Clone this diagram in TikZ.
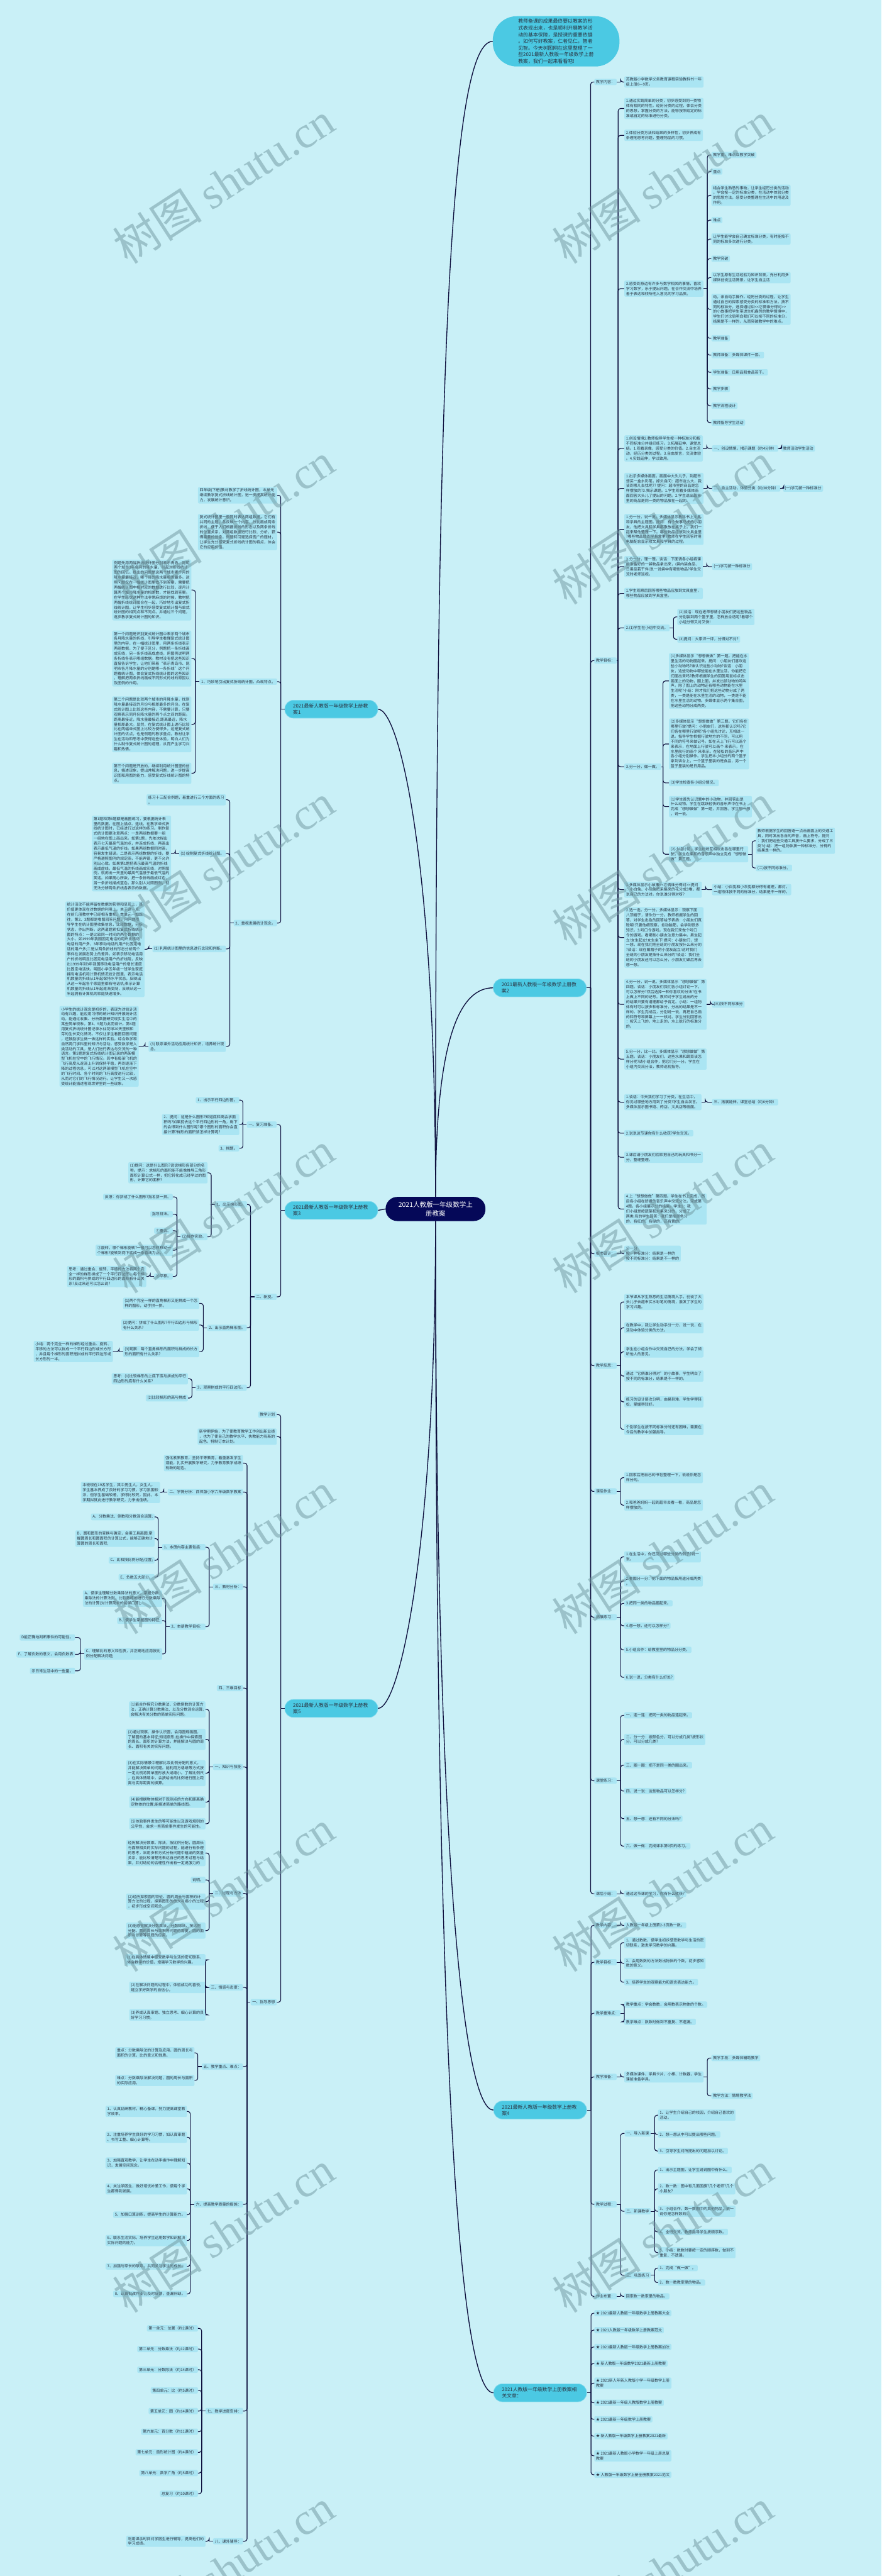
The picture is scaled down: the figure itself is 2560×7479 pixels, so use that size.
\documentclass[tikz,border=0pt]{standalone}
\usepackage{fontspec}
\setmainfont{Noto Sans CJK SC}
\newfontfamily\wmserif{Liberation Serif}
\definecolor{bgc}{RGB}{201,240,247}
\definecolor{leafc}{RGB}{170,229,243}
\definecolor{mainc}{RGB}{75,201,227}
\definecolor{mainb}{RGB}{125,217,237}
\definecolor{ctrc}{RGB}{5,8,88}
\definecolor{linec}{RGB}{14,16,62}
\definecolor{txtc}{RGB}{42,52,66}
\definecolor{wmc}{RGB}{110,150,158}
\newcommand\lleaf[4]{\node[leaf,anchor=east] (#1) at (#2,#3) {#4};}
\newcommand\rleaf[4]{\node[leaf,anchor=west] (#1) at (#2,#3) {#4};}
\newcommand\lbr[3]{\draw[conn] (#1.west) -- ++(-#2,0) coordinate (J#1);
  \foreach \kid in {#3}{\draw[conn,rounded corners=7pt] (J#1) |- (\kid.east);}}
\newcommand\rbr[3]{\draw[conn] (#1.east) -- ++(#2,0) coordinate (J#1);
  \foreach \kid in {#3}{\draw[conn,rounded corners=7pt] (J#1) |- (\kid.west);}}
\begin{document}
\begin{tikzpicture}[x=1pt,y=-1pt,
  leaf/.style={rectangle,rounded corners=4pt,fill=leafc,text=txtc,font=\fontsize{11}{14.4}\selectfont,inner xsep=5pt,inner ysep=4pt,align=left},
  mainn/.style={rectangle,rounded corners=25pt,fill=mainc,draw=mainb,line width=1.5pt,text=txtc,font=\fontsize{14.3}{18.3}\selectfont,align=left,text width=222pt,inner xsep=24pt,inner ysep=8pt,minimum height=52pt},
  ctrn/.style={rectangle,rounded corners=34pt,fill=ctrc,text=white,font=\fontsize{19.2}{26.7}\selectfont,align=center,text width=216pt,inner xsep=37pt,inner ysep=8pt,minimum height=70pt},
  bubn/.style={rectangle,rounded corners=70pt,fill=mainc,text=txtc,font=\fontsize{14.4}{19.3}\selectfont,align=left,text width=220pt,inner xsep=74pt,inner ysep=5pt,minimum height=146pt},
  conn/.style={draw=linec,line width=2pt},
  mconn/.style={draw=linec,line width=2.5pt},
  wm/.style={text=wmc,opacity=0.5,font=\fontsize{130}{130}\selectfont,rotate=33}]
\useasboundingbox (0,0) rectangle (2560,7479);
\fill[bgc] (0,0) rectangle (2560,7479);
% ---------- centre, bubble, main branches
\node[ctrn] (ctr) at (1265,3510) {2021人教版一年级数学上\\册教案};
\node[bubn,anchor=west] (bub) at (1431,120) {教师备课的成果最终要以教案的形\\式表现出来，也是顺利开展教学活\\动的基本保障，是授课的重要依据\\。如何写好教案，仁者见仁，智者\\见智。今天树图网在这里整理了一\\些2021最新人教版一年级数学上册\\教案，我们一起来看看吧!};
\node[mainn,anchor=east] (n1) at (1098,2059) {2021最新人教版一年级数学上册教\\案1};
\node[mainn,anchor=west] (n2) at (1432,2868) {2021最新人教版一年级数学上册教\\案2};
\node[mainn,anchor=east] (n3) at (1098,3514) {2021最新人教版一年级数学上册教\\案3};
\node[mainn,anchor=west] (n4) at (1433,6126) {2021最新人教版一年级数学上册教\\案4};
\node[mainn,anchor=east] (n5) at (1098,4960) {2021最新人教版一年级数学上册教\\案5};
\node[mainn,anchor=west] (n6) at (1433,6947) {2021人教版一年级数学上册教案相\\关文章：};
\draw[mconn] (ctr.north) .. controls (1265,1200) and (1300,120) .. (bub.west);
\draw[mconn] (ctr.north) .. controls (1265,2500) and (1160,2059) .. (n1.east);
\draw[mconn] (ctr.north) .. controls (1265,3000) and (1340,2868) .. (n2.west);
\draw[mconn] (ctr.west) -- (n3.east);
\draw[mconn] (ctr.south) .. controls (1265,5300) and (1340,6126) .. (n4.west);
\draw[mconn] (ctr.south) .. controls (1265,4500) and (1160,4960) .. (n5.east);
\draw[mconn] (ctr.south) .. controls (1265,6100) and (1340,6947) .. (n6.west);
% ---------- branch 1 (left)
\lleaf{a1}{805}{1438}{四年级(下册)教材教学了折线统计图，本单元\\继续教学复式折线统计图，进一步提高统计能\\力，发展统计意识。}
\lleaf{a2}{805}{1545}{复式统计图里一般同时表达两组数据，它们有\\共同的主题，各反映一个内容，分别画成两条\\折线，便于人们根据折线的形态以及两条折线\\的位置关系，对两组数据进行比较、分析，获\\得需要的信息。例题和习题选择宽广的题材，\\让学生充分感受复式折线统计图的特点，体会\\它的应用价值。}
\lleaf{a3}{805}{1979}{1、巧妙地引出复式折线统计图，凸现特点。}
\lleaf{a31}{556}{1713}{例题先用两幅折线统计图分别表示青岛、昆明\\两个城市3年各月的降水量，引起对折线统计\\图的回忆。提出的问题是这两个城市哪个月的\\降水量最接近，哪个月的降水量相差最多。这\\些问题仅在一幅统计图里找不到答案，需要把\\两幅统计图中相对应的数据进行比较，逐月计\\算两个城市降水量的相差数，才能找到答案。\\在学生感觉这种方法非常麻烦的时候，教材把\\两幅折线统计图合在一起，巧妙地引出复式折\\线统计图，让学生初步感受复式统计图与单式\\统计图的相同点和不同点。并通过三个问题，\\逐步教学复式统计图的知识。}
\lleaf{a32}{556}{1912}{第一个问题是识别复式统计图中表示两个城市\\各月降水量的折线，引导学生看懂复式统计图\\里的内容，在一幅统计图里，用两条折线表示\\两组数据，为了便于区分，例题把一条折线画\\成实线，另一条折线画成虚线，用图例说明两\\条折线各表示哪组数据。教材没有把这些知识\\直接告诉学生，让他们带着“表示青岛市、昆\\明市各月降水量的分别是哪一条折线”这个问\\题看统计图，体会复式折线统计图的这些知识\\，理解把两条折线画成不同形式的线的原因以\\及图例的作用。}
\lleaf{a33}{556}{2103}{第二个问题是比较两个城市的月降水量，找到\\降水量最接近的月份与相差最多的月份。在复\\式统计图上比较这些内容，不需要计算，只要\\观察表示同月份降水量的两个点之间的距离。\\距离最接近，降水量最接近;距离最远，降水\\量相差最大。显然，在复式统计图上进行比较\\比在两幅单式图上比较方便得多。这是复式统\\计图的优点，也是例题的教学重点。教材让学\\生在活动和思考中获得这些体验，明白人们为\\什么制作复式统计图的道理，从而产生学习兴\\趣和热情。}
\lleaf{a34}{556}{2245}{第三个问题是开放的，继续利用统计图里的信\\息，描述现象，提出并解决问题，进一步提高\\识图和用图的能力，感受复式折线统计图的特\\点。}
\lleaf{a4}{805}{2680}{2、重视发展统计观念。}
\lleaf{a41}{656}{2322}{练习十三配合例题，着重进行三个方面的练习\\。}
\lleaf{a42}{656}{2478}{(1) 绘制复式折线统计图。}
\lleaf{a42a}{497}{2478}{第1题和第6题都是画图练习，要根据统计表\\里的数据，在图上描点、连线。在教学单式折\\线统计图时，已经进行过这样的练习。制作复\\式统计图要注意两点：一是两组数据要一组\\一组地在图上画出来。如第1题，先依次描出\\表示七天最高气温的点，并连成折线，再画出\\表示最低气温的折线。如果两组数据同时画，\\容易发生错误。二是表示两组数据的折线，要\\严格遵照图例的规定画，不能弄错，更不允许\\别出心裁。如果第1题把表示最高气温的折线\\画成虚线，最低气温的折线画成实线，对照图\\例，就闹出一天里的最高气温低于最低气温的\\笑话。如果随心所欲，把一条折线画成红色，\\另一条折线描成蓝色，那么别人对照图例，就\\无法分辨两条折线各表示的数据。}
\lleaf{a43}{656}{2755}{(2) 利用统计图里的信息进行比较和判断。}
\lleaf{a43a}{420}{2756}{统计活动不能停留在数据的获得和呈现上，其\\价值更体现在对数据的利用上。关于这一点，\\在前几册教材中已经相当重视。本单元一如既\\往，第2、3题都是看图回答问题，用问题引\\导学生在统计图里收集信息，比较数据，分析\\状态，作出判断。这两道题紧扣复式折线统计\\图的特点：一是比较同一时间的两个数据的\\大小，如1999年我国固定电话的用户比移动\\电话的用户多，3年移动电话的用户比固定电\\话的用户多;二是从两条折线的形态分析两个\\事件在发展态势上的差异。如表示移动电话用\\户的折线明显比固定电话用户的折线陡，反映\\出1999年到3年我国移动电话用户的增长速度\\比固定电话快。明园小学五年级一班学生家庭\\拥有电话机和计算机情况统计图里，表示电话\\机数量的折线从1年起保持水平状态，反映出\\从这一年起各个家庭里都有电话机;表示计算\\机数量的折线从1年起逐渐变陡，反映从这一\\年起拥有计算机的家庭快速增多。}
\lleaf{a44}{656}{3038}{(3) 联系课外活动应用统计知识，培养统计观\\念。}
\lleaf{a44a}{403}{3038}{小学生的统计观念是初步的，表现为对统计活\\动有兴趣，能应用习得的统计知识开展统计活\\动，能通过收集、分析数据研究现实生活中的\\某些简单现象。第4、5题为此而设计。第4题\\用复式折线统计图记录水仙花球20天里根和\\芽的生长变化情况。不仅让学生看图回答问题\\，还鼓励学生做一做这样的实验。综合数学和\\自然两门学科里的知识与活动，感受数学是人\\类活动的工具，是人们进行表达与交流的一种\\语言。第5题是复式折线统计图记录的两架模\\型飞机在空中的飞行情况。其中有每架飞机的\\飞行高度从逐渐上升到保持平稳，再到逐渐下\\降的过程信息，可以对这两架模型飞机在空中\\的飞行时间、各个时刻的飞行高度进行比较，\\从而对它们的飞行情况进行。让学生又一次感\\受统计能描述客观世界里的一些现象。}
\lbr{n1}{11}{a1,a2,a3,a4}
\lbr{a3}{12}{a31,a32,a33,a34}
\lbr{a4}{11}{a41,a42,a43,a44}
\lbr{a42}{10}{a42a}
\lbr{a43}{10}{a43a}
\lbr{a44}{10}{a44a}
% ---------- branch 3 (left)
\lleaf{b1}{804}{3265}{一、复习准备。}
\lleaf{b11}{695}{3194}{1、出示平行四边形图。}
\lleaf{b12}{695}{3265}{2、提问：这是什么图形?知道底和高会求面\\积吗?如果剪去这个平行四边形的一角，剩下\\的会得到什么图形呢?哪个图形的面积你会直\\接计算?梯形的面积该怎样计算呢?}
\lleaf{b13}{695}{3334}{3、揭题。}
\lleaf{b2}{804}{3765}{二、新授。}
\lleaf{b21}{718}{3497}{1、出示梯形图。}
\lleaf{b211}{603}{3405}{(1)提问：这是什么图形?说说梯形各部分的名\\称。提示：求梯形的面积能不能像推导三角形\\面积计算公式一样，把它转化成已经学过的图\\形，计算它的面积?}
\lleaf{b212}{603}{3591}{(2)操作实验。}
\lleaf{b2121}{502}{3475}{反馈：你拼成了什么图形?指名拼一拼。}
\lleaf{b2122}{502}{3525}{指导拼法。}
\lleaf{b2123}{502}{3573}{①重合。}
\lleaf{b2124}{502}{3630}{②旋转。哪个梯形旋转?一般可以怎样移动一\\个梯形?旋转到两下底成一条直线为止。}
\lleaf{b2125}{502}{3706}{③平移。}
\lleaf{b2125a}{425}{3706}{思考：通过重合、旋转、平移的方法将两个完\\全一样的梯形拼成了一个平行四边形，每个梯\\形的面积与拼成的平行四边形的面积有什么关\\系?反过来还可以怎么说?}
\lleaf{b22}{717}{3855}{2、出示直角梯形图。}
\lleaf{b221}{579}{3784}{(1)两个完全一样的直角梯形又能拼成一个怎\\样的图形，动手拼一拼。}
\lleaf{b222}{579}{3847}{(2)提问：拼成了什么图形?平行四边形与梯形\\有什么关系?}
\lleaf{b223}{579}{3924}{(3)观察：每个直角梯形的面积与拼成的长方\\形的面积有什么关系?}
\lleaf{b2231}{328}{3924}{小结：两个完全一样的梯形经过重合、旋转、\\平移的方法可以拼成一个平行四边形或长方形\\，并且每个梯形的面积是拼成的平行四边形或\\长方形的一半。}
\lleaf{b23}{717}{4029}{3、观察拼成的平行四边形。}
\lleaf{b231}{546}{4003}{思考：(1)比较梯形的上底下底与拼成的平行\\四边形的底有什么关系?}
\lleaf{b232}{546}{4059}{(2)比较梯形的高与拼成}
\lbr{n3}{11}{b1,b2}
\lbr{b1}{11}{b11,b12,b13}
\lbr{b2}{11}{b21,b22,b23}
\lbr{b21}{11}{b211,b212}
\lbr{b212}{10}{b2121,b2122,b2123,b2124,b2125}
\lbr{b2125}{11}{b2125a}
\lbr{b22}{11}{b221,b222,b223}
\lbr{b223}{11}{b2231}
\lbr{b23}{11}{b231,b232}
% ---------- branch 5 (left)
\lleaf{c1}{804}{4107}{教学计划}
\lleaf{c2}{804}{4171}{新学期伊始，为了使教育教学工作创出新业绩\\，也为了使自己的教学水平、执教能力有新的\\起色，特制订本计划。}
\lleaf{cx}{804}{5813}{一、指导思想}
\lleaf{x1}{706}{4248}{强化素质教育，坚持平等教育，着重激发学生\\潜能，扎实开展教学研究，力争教育教学成绩\\有新的起色。}
\lleaf{x2}{706}{4332}{二、学情分析：西师版小学六年级数学教案}
\lleaf{x2a}{465}{4333}{本班现在19名学生，其中男生人，女生人。\\学生基本养成了良好的学习习惯，学习氛围较\\浓，但学生基础较差，学得比较死，因此，本\\学期拟就此进行教学研究，力争出佳绩。}
\lleaf{x3}{706}{4607}{三、教材分析：}
\lleaf{x31}{597}{4492}{1、本册内容主要包括：}
\lleaf{x311}{449}{4404}{A、分数乘法、倒数和分数混合运算;}
\lleaf{x312}{449}{4467}{B、圆和图形的变换与确定，会用工具画圆;掌\\握圆周长和圆面积的计算公式，能够正确地计\\算圆的周长和面积;}
\lleaf{x313}{449}{4530}{C、比和按比例分配;位置;}
\lleaf{x314}{449}{4579}{E、负数五大部分。}
\lleaf{x32}{597}{4723}{2、本册教学目标：}
\lleaf{x321}{471}{4641}{A、使学生理解分数乘除法的意义，掌握分数\\乘除法的计算法则，比较熟练地进行分数乘除\\法的计算(对计算简单的能够口算);}
\lleaf{x322}{471}{4705}{B、使学生掌握圆的特征;}
\lleaf{x323}{471}{4802}{C、理解比的意义和性质，并正确地应用按比\\例分配解决问题;}
\lleaf{x3231}{218}{4754}{D能正确地判断事件的可能性。}
\lleaf{x3232}{218}{4803}{F、了解负数的意义，会用负数表}
\lleaf{x3233}{218}{4851}{示日常生活中的一些量。}
\lleaf{x4}{706}{4901}{四、三维目标}
\lleaf{x5}{706}{5130}{一、知识与技能}
\lleaf{x51}{597}{4963}{(1)能合作探究分数乘法、分数倒数的计算方\\法，正确计算分数乘法、以及分数混合运算;\\会解决有关分数的简单实际问题。}
\lleaf{x52}{597}{5050}{(2)通过观察、操作认识圆，会用圆规画圆，\\了解圆的基本特征;知道扇形;在操作中探索圆\\的周长、面积的计算方法，并能解决与圆的周\\长、面积有关的实际问题。}
\lleaf{x53}{597}{5148}{(3)在实际情景中理解比及比例分配的意义，\\并能解决简单的问题。能利用方格纸等方式按\\一定比例将简单图形放大或缩小。了解比例尺\\，在具体情境中，会按给出的比例进行图上距\\离与实际距离的换算。}
\lleaf{x54}{597}{5232}{(4)能根据物体相对于观测点的方向和距离确\\定物体的位置;能描述简单的路线图。}
\lleaf{x55}{597}{5295}{(5)体验事件发生的等可能性以及游戏规则的\\公平性，会求一些简单事件发生的可能性。}
\lleaf{x6}{706}{5497}{二、过程与方法}
\lleaf{x61}{597}{5380}{经历解决分数乘、除法，按比例分配，圆周长\\与面积相关的实际问题的过程，能进行有条理\\的思考，采用多种方式分析问题中蕴涵的数量\\关系，能比较清楚地表达自己的思考过程与结\\果，并对结论的合理性作出有一定说服力的}
\lleaf{x62}{597}{5458}{说明。}
\lleaf{x63}{597}{5521}{(2)经历探索圆的特征、圆的周长与面积的计\\算方法的过程，探索图形的放大与缩小的过程\\，初步形成空间观念。}
\lleaf{x64}{597}{5605}{(3)能感觉解决分数乘法、分数除法、按比例\\分配，圆的周长与面积等问题的需要，圆的面\\积与计算等问题的应用。}
\lleaf{x7}{706}{5770}{三、情感与态度：}
\lleaf{x71}{597}{5690}{(1)在具体情境中感受数学与生活的密切联系，\\体会数学的价值，增强学习数学的兴趣。}
\lleaf{x72}{597}{5770}{(2)在解决问题的过程中，体验成功的喜悦，\\建立学好数学的自信心。}
\lleaf{x73}{597}{5850}{(3)养成认真审题、独立思考、细心计算的良\\好学习习惯。}
\lleaf{x8}{706}{6000}{五、教学重点、难点：}
\lleaf{x81}{565}{5960}{重点：分数乘除法的计算及应用，圆的周长与\\面积的计算，比的意义和性质。}
\lleaf{x82}{565}{6040}{难点：分数乘除法解决问题，圆的周长与面积\\的实际应用。}
\lleaf{x9}{706}{6400}{六、提高教学质量的措施：}
\lleaf{x91}{543}{6130}{1、认真钻研教材，精心备课，努力提高课堂教\\学效率。}
\lleaf{x92}{543}{6205}{2、注重培养学生良好的学习习惯，如认真审题\\、书写工整、细心计算等。}
\lleaf{x93}{543}{6280}{3、加强直观教学，让学生在动手操作中理解知\\识，发展空间观念。}
\lleaf{x94}{543}{6355}{4、关注学困生，做好培优补差工作，使每个学\\生都得到发展。}
\lleaf{x95}{543}{6430}{5、加强口算训练，提高学生的计算能力。}
\lleaf{x96}{543}{6505}{6、联系生活实际，培养学生运用数学知识解决\\实际问题的能力。}
\lleaf{x97}{543}{6580}{7、加强与家长的联系，共同关注学生的成长。}
\lleaf{x98}{543}{6660}{8、认真批改作业，及时反馈，查漏补缺。}
\lleaf{x10}{706}{7000}{七、教学进度安排：}
\lleaf{x101}{575}{6760}{第一单元：位置（约2课时）}
\lleaf{x102}{575}{6820}{第二单元：分数乘法（约12课时）}
\lleaf{x103}{575}{6880}{第三单元：分数除法（约14课时）}
\lleaf{x104}{575}{6940}{第四单元：比（约5课时）}
\lleaf{x105}{575}{7000}{第五单元：圆（约14课时）}
\lleaf{x106}{575}{7060}{第六单元：百分数（约11课时）}
\lleaf{x107}{575}{7120}{第七单元：扇形统计图（约4课时）}
\lleaf{x108}{575}{7180}{第八单元：数学广角（约5课时）}
\lleaf{x109}{575}{7240}{总复习（约10课时）}
\lleaf{x11}{706}{7378}{八、课外辅导：}
\lleaf{x111}{597}{7378}{利用课余时间对学困生进行辅导，提高他们的\\学习成绩。}
\lbr{n5}{11}{c1,c2,cx}
\lbr{cx}{10}{x1,x2,x3,x4,x5,x6,x7,x8,x9,x10,x11}
\lbr{x2}{11}{x2a}
\lbr{x3}{11}{x31,x32}
\lbr{x31}{11}{x311,x312,x313,x314}
\lbr{x32}{11}{x321,x322,x323}
\lbr{x323}{11}{x3231,x3232,x3233}
\lbr{x5}{11}{x51,x52,x53,x54,x55}
\lbr{x6}{11}{x61,x62,x63,x64}
\lbr{x7}{11}{x71,x72,x73}
\lbr{x8}{11}{x81,x82}
\lbr{x9}{11}{x91,x92,x93,x94,x95,x96,x97,x98}
\lbr{x10}{11}{x101,x102,x103,x104,x105,x106,x107,x108,x109}
\lbr{x11}{11}{x111}
% ---------- branch 2 (right)
\rleaf{p1}{1726}{238}{教学内容：}
\rleaf{p1a}{1813}{238}{苏教版小学数学义务教育课程实验教科书一年\\级上册8—9页。}
\rleaf{p2}{1726}{1918}{教学目标：}
\rleaf{p2a}{1813}{315}{1.通过实践简单的分类，初步感受到同一类物\\体有相同的特性。经历分类的过程，体会分类\\的思想，掌握分类的方法，能够按照给定的标\\准或自定的标准进行分类。}
\rleaf{p2b}{1813}{393}{2.体验分类方法和结果的多样性，初步养成有\\条理地思考问题，整理物品的习惯。}
\rleaf{p2c}{1813}{838}{3.感受到身边有许多与数学相关的事情，喜欢\\学习数学，乐于提出问题。在合作交流中培养\\善于表达和倾听他人意见的学习品质。}
\rleaf{p2c1}{2066}{450}{教学重、难点及教学突破}
\rleaf{p2c2}{2066}{498}{重点}
\rleaf{p2c3}{2066}{567}{结合学生熟悉的事物，让学生经历分类的活动\\，学会按一定的标准分类，在活动中体验分类\\的思想方法，感受分类整理在生活中的用途及\\作用。}
\rleaf{p2c4}{2066}{639}{难点}
\rleaf{p2c5}{2066}{694}{让学生能学会自己确立标准分类，有时能按不\\同的标准多次进行分类。}
\rleaf{p2c6}{2066}{751}{教学突破}
\rleaf{p2c7}{2066}{806}{以学生原有生活经验为知识背景，充分利用多\\媒体创设生活情景，让学生自主活}
\rleaf{p2c8}{2066}{898}{动，亲自动手操作，经历分类的过程，让学生\\通过自己的探索感受分类的标准和方法。按不\\同的标准分，选择通过讲<{}<它俩谁分得对>{}>\\的小故事把学生带进生机盎然的教学情境中，\\学生们讨论后明白我们可以按不同的标准分，\\结果是不一样的，从而突破教学中的难点。}
\rleaf{p2c9}{2066}{982}{教学准备}
\rleaf{p2c10}{2066}{1031}{教师准备：多媒体课件一套。}
\rleaf{p2c11}{2066}{1081}{学生准备：日用品和食品若干。}
\rleaf{p2c12}{2066}{1129}{教学步骤}
\rleaf{p2c13}{2066}{1178}{教学流程设计}
\rleaf{p2c14}{2066}{1227}{教师指导学生活动}
\rleaf{p2d}{1813}{1302}{1.创设情境2.教师指导学生按一种标准分和按\\不同标准分并组织练习。3.拓展延伸，课堂总\\结。1.观看录像，感受分类的价值。2.自主活\\动，经历分类的过程。3.自由发言，交流体验\\。4.实践延伸，学以致用。}
\rleaf{p2d1}{2068}{1302}{一、创设情境，揭示课题（约4分钟）}
\rleaf{p2d2}{2269}{1302}{教师活动学生活动}
\rleaf{p2e}{1813}{1418}{1.出示多媒体画面，画面中大头儿子，到超市\\想买一盒水彩笔，掉头自问：超市这么大，我\\该到哪儿去找呢?? 提问：超市里的商品是怎\\样摆放的?3.揭示课题。1.学生观看多媒体画\\面回答大头儿了提出的问题。2.学生说出超市\\里的商品是同一类的物品放在一起的。}
\rleaf{p2e1}{2068}{1418}{二、自主活动，体验分类（约30分钟）}
\rleaf{p2e2}{2274}{1418}{(一)学习按一种标准分}
\rleaf{p2f}{1813}{1537}{1.分一分，说一说。多媒体显示教科书上文具\\和学具的主题图。提问：有个做事马虎的小朋\\友，他把文具和学具都散放在桌子上。我们一\\起来帮他整理一下。哪些物品应放到文具盒里\\?哪些物品放到学具盒里?教师在学生回答时用\\电脑配合显示收文具和学具的过程。}
\rleaf{p2g}{1813}{1645}{2.分一分，理一理。谈话：下面请各小组将课\\前准备好的一袋物品拿出来，(袋内装食品、\\日用品若干件)说一说袋中有哪些物品?学生交\\流时老师巡视。}
\rleaf{p2g1}{2068}{1645}{(一)学习按一种标准分}
\rleaf{p2h}{1813}{1723}{1.学生观察后回答哪些物品应放到文具盒里，\\哪些物品应放到学具盒里。}
\rleaf{p2i}{1813}{1823}{2.(1)学生在小组中交流。}
\rleaf{p2i1}{1967}{1791}{(2)谈话：现在老师想请小朋友们把这些物品\\分别装到两个篮子里，怎样放合适呢?看哪个\\小组分得又对又快!}
\rleaf{p2i2}{1967}{1856}{(3)提问：大家评一评，分得对不对?}
\rleaf{p2j}{1813}{2226}{3.分一分，做一做。}
\rleaf{p2j1}{1943}{1977}{(1)多媒体显示“想想做做”第一题。把能在水\\里生活的动物圈起来。提问：小朋友们喜欢这\\些小动物吗?谁认识这些小动物?谈话：小朋\\友，这些动物中哪些能在水里生活，你能把它\\们圈出来吗?教师根据学生的回答用鼠标点击\\画面上的动物，圈上圈，并发出该动物的鸣叫\\声。除了图上的动物还有哪些动物能在水里\\生活呢?小结：刚才我们把这些动物分成了两\\类，一类是能在水里生活的动物，一类是不能\\在水里生活的动物。多媒体显示两个集合图，\\把这些动物分成两类。}
\rleaf{p2j2}{1943}{2160}{(2)多媒体显示“想想做做”第三题。它们各在\\哪里行驶?提问：小朋友们，这些都认识吗?它\\们各在哪里行驶呢?各小组先讨论，互相说一\\说。指导学生根据行驶地方的不同，可以用\\不同的符号来做记号。如在天上飞行可以画个\\来表示，在地面上行驶可以画个 来表示，在\\水里航行的画个 来表示。在轻松的音乐声中\\各小组分别操作。学生把本小组分的两个篮子\\拿到讲台上，一个篮子里装的是食品，另一个\\篮子里装的是日用品。}
\rleaf{p2j3}{1943}{2273}{(3)学生检查各小组分情况。}
\rleaf{p2j4}{1943}{2342}{(1)学生首先认识题中的小动物，并回答出是\\什么动物。学生在跳跃轻快的音乐声中在书上\\完成“想想做做”第一题，并回答。学生想一想\\，说一说。}
\rleaf{p2j5}{1943}{2480}{(2)小组讨论，学生纷纷互相说出各在哪里行\\驶。学生在柔和的音乐声中独立完成“想想做\\做”第三题。}
\rleaf{p2j5a}{2195}{2441}{教师根据学生的回答逐一点击画面上的交通工\\具，同时发出各自的声音，画上符号。提问\\：我们把这些交通工具按什么要求，分成了三\\类?小结：把一组物体按一种标准分，分得的\\结果是一样的。}
\rleaf{p2j5b}{2195}{2520}{(二)按不同标准分。}
\rleaf{p2k}{1813}{2583}{1.多媒体显示小故事<{}<它俩谁分得对>{}>提问\\：小白兔、小灰兔把采集来的花分成3堆，都\\说自己的方法对。你说谁分得对呀?}
\rleaf{p2k1}{2068}{2583}{小结：小白兔和小灰兔都分得有道理，都对。\\一组物体按不同的标准分，结果是不一样的。}
\rleaf{p2l}{1813}{2722}{2.选一选，分一分。多媒体显示：观察下面\\八顶帽子，请你分一分。教师根据学生的回\\答，对学生出色的回答给予表扬：小朋友们真\\聪明!只要他细观察，肯动脑筋，会学到很多\\知识。3.听口令游戏。现在我们来做个听口\\令的游戏。看哪些小朋友注意力集中。男生起\\立!女生起立!女生坐下!提问：小朋友们，想\\一想，现在我们把全班的小朋友按什么来分的\\?谈话：现在戴帽子的小朋友起立!这时我们\\全班的小朋友是按什么来分的?谈话：我们全\\班的小朋友还可以怎么分，小朋友们课后再去\\想一想。}
\rleaf{p2m}{1813}{2916}{4.分一分，说一说。多媒体显示“想想做做”第\\四题。谈话：小朋友们我们各小组讨论一下，\\可以怎样分?然后选择一种你喜欢的分法?在书\\上做上不同的记号。教师对于学生说出的分\\的结果只要有道理都给予肯定。小结：一组物\\体有时可以按多种标准分，分出的结果是不一\\样的。学生完成后，分别说一说，再把自己画\\的和符号和屏幕上一一核对。学生分别回答出\\：按天上飞的，地上走的，水上航行的标准分\\的。}
\rleaf{p2m1}{2068}{2916}{(三)按不同标准分}
\rleaf{p2n}{1813}{3075}{5.分一分，比一比。多媒体显示“想想做做”第\\五题。谈话：小朋友们，这些水果和蔬菜该怎\\样分呢?请小组合作，把它们分一分。学生在\\小组内交流分法，教师巡视指导。}
\rleaf{p2o}{1813}{3200}{1.谈话：今天我们学习了分类，在生活中，\\你见过哪些地方用到了分类?学生自由发言。\\多媒体显示图书馆、药店、文具店等画面。}
\rleaf{p2o1}{2068}{3200}{三、拓展延伸，课堂总结（约6分钟）}
\rleaf{p2p}{1813}{3290}{2.说说这节课你有什么收获?学生交流。}
\rleaf{p2q}{1813}{3360}{3.课后请小朋友们回家把自己的玩具和书分一\\分，整理整理。}
\rleaf{p2r}{1813}{3510}{4.上“想想做做”第四题。学生在书上完成，然\\后各小组在舒缓的音乐声中交流分法。完成第\\4题。各小组展示分的结果。学生1：我\\们小组是按蔬菜和水果来分的，分成了\\两类;有的学生回答：我们是按颜色分\\的，有红的，有绿的，还有黄的。}
\rleaf{p3}{1726}{3640}{板书设计：}
\rleaf{p3a}{1813}{3640}{分一分\\按一种标准分：结果是一样的\\按不同标准分：结果是不一样的}
\rleaf{p4}{1726}{3965}{教学反思：}
\rleaf{p4a}{1813}{3780}{本节课从学生熟悉的生活情境入手，创设了大\\头儿子去超市买水彩笔的情境，激发了学生的\\学习兴趣。}
\rleaf{p4b}{1813}{3855}{在教学中，我让学生动手分一分、说一说，在\\活动中体验分类的方法。}
\rleaf{p4c}{1813}{3925}{学生在小组合作中交流自己的分法，学会了倾\\听他人的意见。}
\rleaf{p4d}{1813}{3995}{通过“它俩谁分得对”的小故事，学生明白了\\按不同的标准分，结果是不一样的。}
\rleaf{p4e}{1813}{4070}{练习的设计层次分明，由易到难，学生学得轻\\松，掌握得较好。}
\rleaf{p4f}{1813}{4150}{个别学生在按不同标准分时还有困难，需要在\\今后的教学中加强指导。}
\rleaf{p5}{1726}{4330}{课后作业：}
\rleaf{p5a}{1813}{4290}{1.回家后把自己的书包整理一下，说说你是怎\\样分的。}
\rleaf{p5b}{1813}{4370}{2.和爸爸妈妈一起到超市去看一看，商品是怎\\样摆放的。}
\rleaf{p6}{1726}{4695}{拓展练习：}
\rleaf{p6a}{1813}{4520}{1.在生活中，你还见过哪些分类的例子?说一\\说。}
\rleaf{p6b}{1813}{4590}{2.看图分一分：把下面的物品按用途分成两类\\。}
\rleaf{p6c}{1813}{4655}{3.把同一类的物品圈起来。}
\rleaf{p6d}{1813}{4720}{4.想一想，还可以怎样分?}
\rleaf{p6e}{1813}{4790}{5.小组合作：给教室里的物品分分类。}
\rleaf{p6f}{1813}{4870}{6.说一说，分类有什么好处?}
\rleaf{p7}{1726}{5170}{课堂练习：}
\rleaf{p7a}{1813}{4980}{一、连一连：把同一类的物品连起来。}
\rleaf{p7b}{1813}{5050}{二、分一分：按颜色分，可以分成几类?按形状\\分，可以分成几类?}
\rleaf{p7c}{1813}{5125}{三、圈一圈：把不是同一类的圈出来。}
\rleaf{p7d}{1813}{5200}{四、说一说：这些物品可以怎样分?}
\rleaf{p7e}{1813}{5280}{五、想一想：还有不同的分法吗?}
\rleaf{p7f}{1813}{5360}{六、做一做：完成课本第9页的练习。}
\rleaf{p8}{1726}{5498}{课后小结：}
\rleaf{p8a}{1813}{5498}{通过这节课的学习，你有什么收获?}
\rbr{n2}{12}{p1,p2,p3,p4,p5,p6,p7,p8}
\rbr{p1}{11}{p1a}
\rbr{p2}{4}{p2a,p2b,p2c,p2d,p2e,p2f,p2g,p2h,p2i,p2j,p2k,p2l,p2m,p2n,p2o,p2p,p2q,p2r}
\rbr{p2c}{11}{p2c1,p2c2,p2c3,p2c4,p2c5,p2c6,p2c7,p2c8,p2c9,p2c10,p2c11,p2c12,p2c13,p2c14}
\rbr{p2d}{11}{p2d1}
\rbr{p2d1}{10}{p2d2}
\rbr{p2e}{11}{p2e1}
\rbr{p2e1}{10}{p2e2}
\rbr{p2g}{11}{p2g1}
\rbr{p2i}{11}{p2i1,p2i2}
\rbr{p2j}{5}{p2j1,p2j2,p2j3,p2j4,p2j5}
\rbr{p2j5}{11}{p2j5a,p2j5b}
\rbr{p2k}{11}{p2k1}
\rbr{p2m}{11}{p2m1}
\rbr{p2o}{11}{p2o1}
\rbr{p3}{11}{p3a}
\rbr{p4}{11}{p4a,p4b,p4c,p4d,p4e,p4f}
\rbr{p5}{11}{p5a,p5b}
\rbr{p6}{11}{p6a,p6b,p6c,p6d,p6e,p6f}
\rbr{p7}{11}{p7a,p7b,p7c,p7d,p7e,p7f}
\rbr{p8}{11}{p8a}
% ---------- branch 4 (right)
\rleaf{q1}{1726}{5590}{教学内容：}
\rleaf{q1a}{1813}{5590}{人教版一年级上册第2-3页数一数。}
\rleaf{q2}{1726}{5697}{教学目标：}
\rleaf{q2a}{1813}{5640}{1、通过数数，使学生初步感受数学与生活的密\\切联系，激发学习数学的兴趣。}
\rleaf{q2b}{1813}{5700}{2、会用数数的方法数出物体的个数，初步感知\\数的意义。}
\rleaf{q2c}{1813}{5755}{3、培养学生的观察能力和语言表达能力。}
\rleaf{q3}{1726}{5845}{教学重难点：}
\rleaf{q3a}{1813}{5820}{教学重点：学会数数，会用数表示物体的个数。}
\rleaf{q3b}{1813}{5870}{教学难点：数数时做到不重复、不遗漏。}
\rleaf{q4}{1726}{6030}{教学准备：}
\rleaf{q4a}{1813}{6030}{多媒体课件、学具卡片、小棒、计数器，学生\\课前准备学具。}
\rleaf{q4a1}{2066}{5975}{教学手段：多媒体辅助教学}
\rleaf{q4a2}{2066}{6085}{教学方法：情境教学法}
\rleaf{q5}{1726}{6400}{教学过程：}
\rleaf{q51}{1814}{6194}{一、导入新课}
\rleaf{q511}{1911}{6141}{1、让学生介绍自己的校园，介绍自己喜欢的\\活动。}
\rleaf{q512}{1911}{6197}{2、想一想从中可以提出哪些问题。}
\rleaf{q513}{1911}{6245}{3、引导学生对所提出的问题加以讨论。}
\rleaf{q52}{1814}{6420}{二、新课教学}
\rleaf{q521}{1911}{6300}{1、出示主题图，让学生说说图中有什么。}
\rleaf{q522}{1911}{6355}{2、数一数：图中有几面国旗?几个老师?几个\\小朋友?}
\rleaf{q523}{1911}{6420}{3、小组合作，数一数图中的其他物品，说一\\说你是怎样数的。}
\rleaf{q524}{1911}{6480}{4、全班交流，教师指导学生按顺序数。}
\rleaf{q525}{1911}{6540}{5、小结：数数时要按一定的顺序数，做到不\\重复、不遗漏。}
\rleaf{q53}{1814}{6606}{三、巩固练习}
\rleaf{q531}{1911}{6585}{1、完成“做一做”。}
\rleaf{q532}{1911}{6627}{2、数一数教室里的物品。}
\rleaf{q6}{1726}{6667}{作业布置：}
\rleaf{q6a}{1813}{6667}{回家数一数家里的物品。}
\rbr{n4}{12}{q1,q2,q3,q4,q5,q6}
\rbr{q1}{11}{q1a}
\rbr{q2}{11}{q2a,q2b,q2c}
\rbr{q3}{11}{q3a,q3b}
\rbr{q4}{11}{q4a}
\rbr{q4a}{11}{q4a1,q4a2}
\rbr{q5}{11}{q51,q52,q53}
\rbr{q51}{11}{q511,q512,q513}
\rbr{q52}{11}{q521,q522,q523,q524,q525}
\rbr{q53}{11}{q531,q532}
\rbr{q6}{11}{q6a}
% ---------- related articles
\rleaf{r1}{1726}{6716}{★ 2021最新人教版一年级数学上册教案大全}
\rleaf{r2}{1726}{6765}{★ 2021人教版一年级数学上册教案范文}
\rleaf{r3}{1726}{6814}{★ 2021最新人教版一年级数学上册教案加法}
\rleaf{r4}{1726}{6862}{★ 新人教版一年级数学2021最新上册教案}
\rleaf{r5}{1726}{6919}{★ 2021新人年新人教版小学一年级数学上册\\教案}
\rleaf{r6}{1726}{6976}{★ 2021最新一年级人教版数学上册教案}
\rleaf{r7}{1726}{7024}{★ 2021最新一年级数学上册教案}
\rleaf{r8}{1726}{7073}{★ 新人教版一年级数学上册教案2021最新}
\rleaf{r9}{1726}{7130}{★ 2021最新人教版小学数学一年级上册总复\\教案}
\rleaf{r10}{1726}{7185}{★ 人教版一年级数学上册全册教案2021范文}
\rbr{n6}{12}{r1,r2,r3,r4,r5,r6,r7,r8,r9,r10}
% ---------- watermarks
\foreach \wy [count=\i] in {530,1520,2510,3520,4510,5490,6480,7460}{
  \node[wm] (wmL\i) at (650,\wy) {树图 {\wmserif shutu.cn}};
  \node[wm] (wmR\i) at (1925,\wy) {树图 {\wmserif shutu.cn}};
}
\end{tikzpicture}
\end{document}
